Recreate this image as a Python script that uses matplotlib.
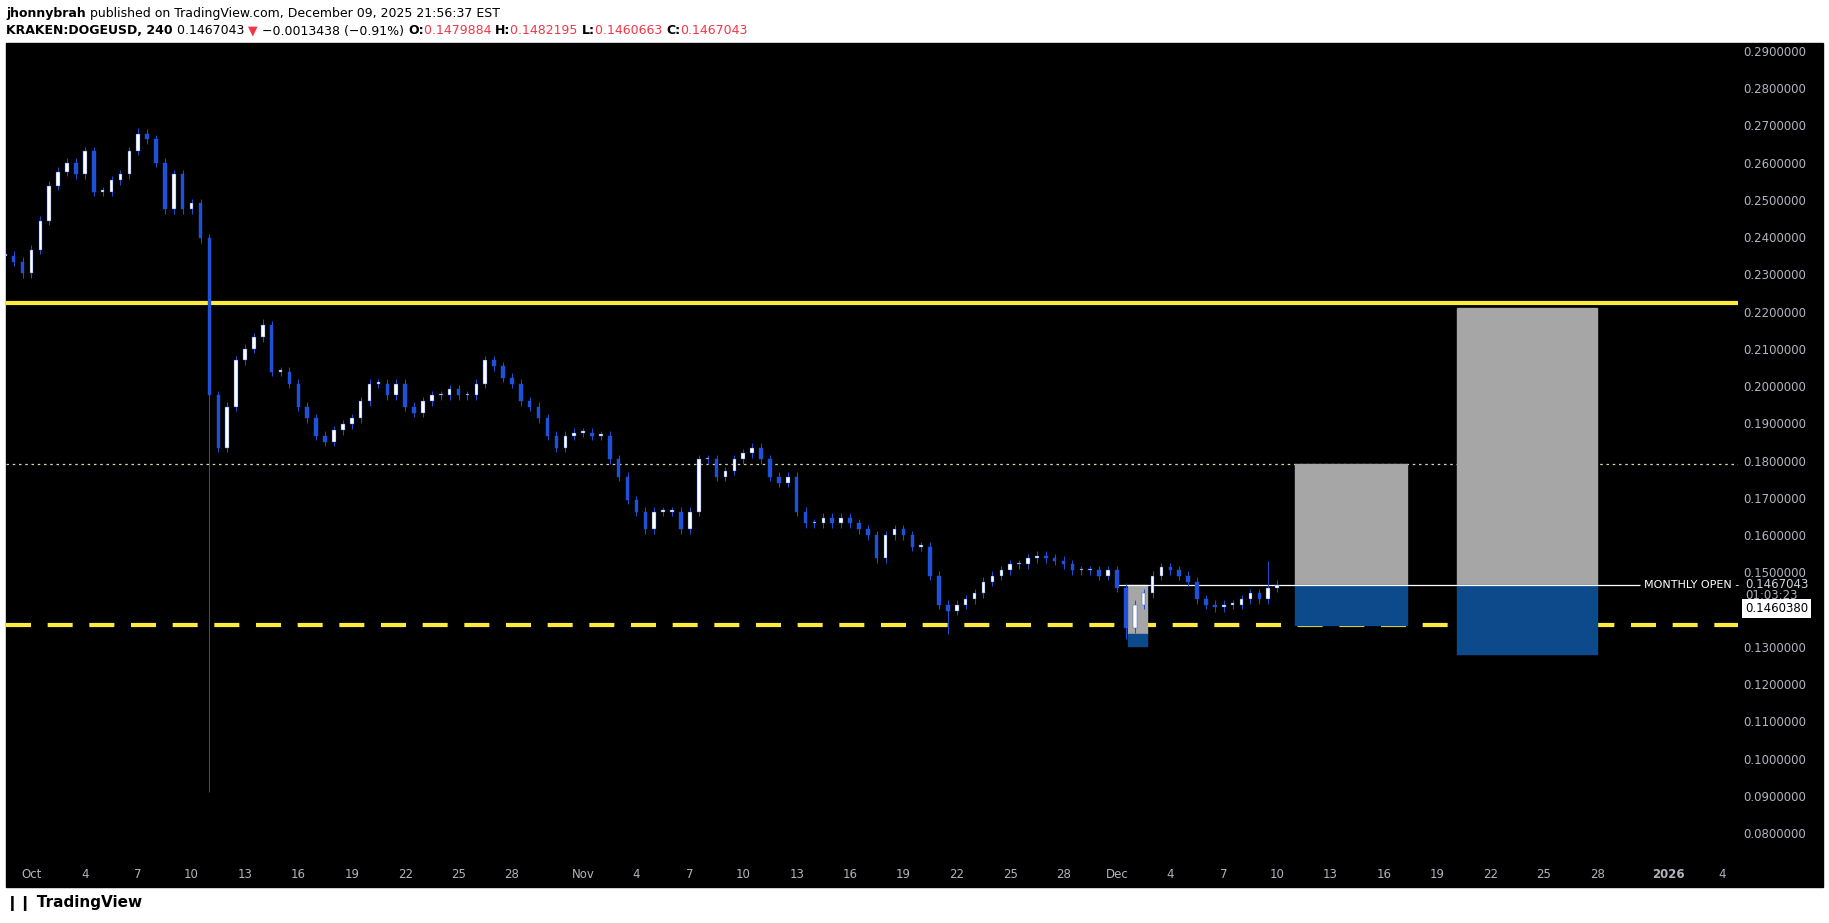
import numpy as np
import matplotlib
matplotlib.use("Agg")
import matplotlib.pyplot as plt
from matplotlib.patches import Rectangle

t0, step = -1.5, 0.5
closes = [
    0.2350, 0.2334, 0.2303, 0.2366, 0.2444, 0.2538, 0.2575, 0.2600, 0.2569, 0.2631,
    0.2522, 0.2522, 0.2553, 0.2569, 0.2631, 0.2678, 0.2663, 0.2600, 0.2475, 0.2569,
    0.2475, 0.2491, 0.2397, 0.1975, 0.1834, 0.1944, 0.2069, 0.2100, 0.2131, 0.2163,
    0.2038, 0.2038, 0.2006, 0.1944, 0.1913, 0.1866, 0.1850, 0.1881, 0.1897, 0.1913,
    0.1959, 0.2006, 0.2006, 0.1975, 0.2006, 0.1944, 0.1928, 0.1959, 0.1975, 0.1975,
    0.1991, 0.1975, 0.1975, 0.2006, 0.2069, 0.2053, 0.2022, 0.2006, 0.1959, 0.1944,
    0.1913, 0.1866, 0.1834, 0.1866, 0.1875, 0.1875, 0.1866, 0.1866, 0.1803, 0.1756,
    0.1694, 0.1663, 0.1616, 0.1663, 0.1663, 0.1663, 0.1616, 0.1663, 0.1803, 0.1803,
    0.1756, 0.1772, 0.1803, 0.1819, 0.1834, 0.1803, 0.1756, 0.1741, 0.1756, 0.1663,
    0.1631, 0.1631, 0.1647, 0.1631, 0.1647, 0.1631, 0.1616, 0.1600, 0.1538, 0.1600,
    0.1616, 0.1600, 0.1569, 0.1569, 0.1491, 0.1413, 0.1397, 0.1413, 0.1428, 0.1444,
    0.1475, 0.1491, 0.1506, 0.1522, 0.1522, 0.1538, 0.1544, 0.1538, 0.1531, 0.1522,
    0.1506, 0.1506, 0.1506, 0.1491, 0.1506, 0.1459, 0.1350, 0.1413, 0.1444, 0.1491,
    0.1513, 0.1506, 0.1491, 0.1475, 0.1428, 0.1413, 0.1406, 0.1413, 0.1413, 0.1428,
    0.1444, 0.1428, 0.1459, 0.1467,
]
extreme_lows = {23: 0.0910, 106: 0.1334, 126: 0.1320}
extreme_highs = {15: 0.2694, 29: 0.2180, 142: 0.1530}

resistance = 0.2222
support = 0.1359
mid_level = 0.1791
monthly_open = 0.1467
# position boxes: (start day, end day, top, entry, bottom)
boxes = [(61.6, 62.7, 0.1467, 0.1334, 0.1303),
         (71.0, 77.3, 0.1791, 0.1467, 0.1359),
         (80.1, 88.0, 0.2209, 0.1467, 0.1281)]

price_ticks = [0.08, 0.09, 0.10, 0.11, 0.12, 0.13, 0.15, 0.16, 0.17, 0.18,
               0.19, 0.20, 0.21, 0.22, 0.23, 0.24, 0.25, 0.26, 0.27, 0.28, 0.29]
date_ticks = [0, 3, 6, 9, 12, 15, 18, 21, 24, 27, 31, 34, 37, 40, 43, 46, 49, 52, 55, 58,
              61, 64, 67, 70, 73, 76, 79, 82, 85, 88, 92, 95]
date_labels = ["Oct", "4", "7", "10", "13", "16", "19", "22", "25", "28",
               "Nov", "4", "7", "10", "13", "16", "19", "22", "25", "28",
               "Dec", "4", "7", "10", "13", "16", "19", "22", "25", "28", "2026", "4"]

W, H = 1829, 923
fig = plt.figure(figsize=(W / 100, H / 100), dpi=100, facecolor="white")
fig.patches.append(Rectangle((6 / W, 1 - 887 / H), 1817 / W, 844 / H,
                             transform=fig.transFigure, color="black", zorder=-5))
ax = fig.add_axes([6 / W, 1 - 855 / H, 1732 / W, 812 / H])
ax.set_facecolor("black")
for s in ax.spines.values():
    s.set_visible(False)
ax.set_xlim(-1.43, 95.9)
ax.set_ylim(0.0741, 0.2921)

grey = "#b2b5be"
ax.yaxis.tick_right()
ax.set_yticks(price_ticks)
ax.set_yticklabels([f"{p:.7f}" for p in price_ticks], color=grey, fontsize=8.5)
ax.set_xticks(date_ticks)
ax.set_xticklabels(date_labels, color=grey, fontsize=8.5)
for lab in ax.get_xticklabels():
    if lab.get_text() == "2026":
        lab.set_fontweight("bold")
ax.tick_params(length=0, pad=4)
ax.tick_params(axis="x", pad=9)

# levels
ax.axhline(resistance, color="#ffeb3b", lw=3, zorder=2)
ax.axhline(support, color="#ffeb3b", lw=3, ls=(0, (6, 4)), zorder=2)
ax.axhline(mid_level, color="#d8d8b0", lw=0.9, ls=(0, (2, 3)), zorder=2)

# boxes
for x0, x1, top, entry, bot in boxes:
    ax.add_patch(Rectangle((x0, entry), x1 - x0, top - entry, color="#a6a6a6", zorder=3))
    ax.add_patch(Rectangle((x0, bot), x1 - x0, entry - bot, color="#0c4a8c", zorder=3))

ax.hlines(monthly_open, 61.0, 90.4, color="white", lw=0.9, zorder=4)
ax.text(90.6, monthly_open, "MONTHLY OPEN -", color="white", fontsize=8, va="center", zorder=5)

# candles
times = t0 + step * np.arange(len(closes))
opens = [closes[0]] + closes[:-1]
for i, (t, o, c) in enumerate(zip(times, opens, closes)):
    col = "white" if c >= o else "#1e50d8"
    hi = extreme_highs.get(i, max(o, c) + 0.0012)
    lo = extreme_lows.get(i, min(o, c) - 0.0012)
    ax.vlines(t, lo, hi, color="#1e50d8", lw=0.7, zorder=5)
    ax.bar(t, max(abs(c - o), 0.0004), bottom=min(o, c), width=0.2,
           color=col, edgecolor="#1e50d8", lw=0.3, zorder=6)

# price labels on right scale
ax.text(1.004, 0.1467, "0.1467043", transform=ax.get_yaxis_transform(),
        color="#d1d4dc", fontsize=8.5, va="center")
ax.text(1.004, 0.1437, "01:03:23", transform=ax.get_yaxis_transform(),
        color=grey, fontsize=8.5, va="center")
ax.text(1.004, 0.1402, "0.1460380", transform=ax.get_yaxis_transform(),
        color="black", fontsize=8.5, va="center",
        bbox=dict(facecolor="white", edgecolor="none", pad=2))

# header and footer
fig.canvas.draw()
r = fig.canvas.get_renderer()


def text_row(parts, y):
    x = 6
    for s, c, w in parts:
        tx = fig.text(x / W, 1 - y / H, s, fontsize=9, color=c, fontweight=w, va="center")
        x += tx.get_window_extent(r).width


text_row([("jhonnybrah ", "black", "bold"),
          ("published on TradingView.com, December 09, 2025 21:56:37 EST", "black", "normal")], 13)
text_row([("KRAKEN:DOGEUSD, 240 ", "black", "bold"), ("0.1467043 ", "black", "normal"),
          ("\u25bc ", "#f23645", "normal"), ("\u22120.0013438 (\u22120.91%) ", "black", "normal"),
          ("O:", "black", "bold"), ("0.1479884 ", "#f23645", "normal"),
          ("H:", "black", "bold"), ("0.1482195 ", "#f23645", "normal"),
          ("L:", "black", "bold"), ("0.1460663 ", "#f23645", "normal"),
          ("C:", "black", "bold"), ("0.1467043", "#f23645", "normal")], 31)
fig.text(6 / W, 1 - 903 / H, "\u2759\u2759 TradingView", fontsize=11, fontweight="bold", va="center")

fig.savefig("out.png", dpi=100, facecolor="white")
